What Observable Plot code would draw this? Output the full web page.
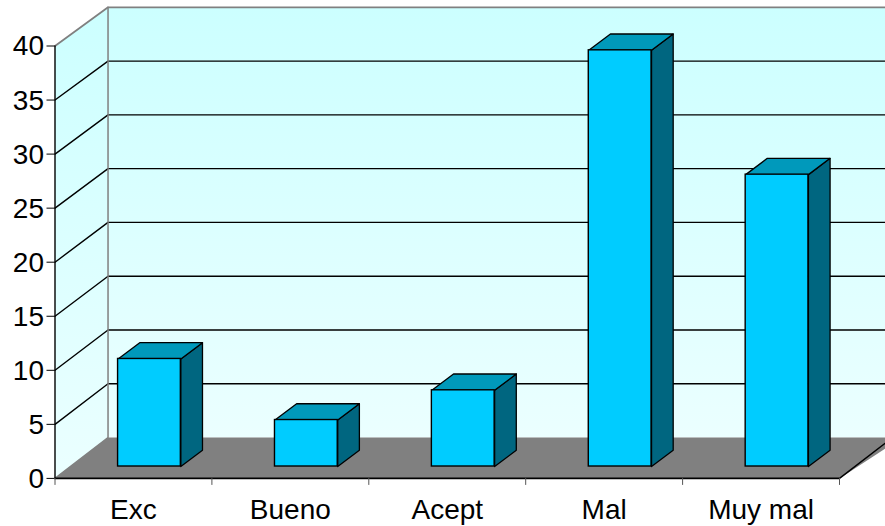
<!DOCTYPE html>
<html>
<head>
<meta charset="utf-8">
<script src="https://cdn.jsdelivr.net/npm/d3@7"></script>
<script src="https://cdn.jsdelivr.net/npm/@observablehq/plot@0.6"></script>
<style>
html,body{margin:0;padding:0;background:#fff;overflow:hidden}
svg{display:block}
</style>
</head>
<body>
<div id="chart"></div>
<script>
const categories = ["Exc", "Bueno", "Acept", "Mal", "Muy mal"];
const values = [9.95, 4.3, 7.05, 38.5, 27];
const yTicks = [0, 5, 10, 15, 20, 25, 30, 35, 40];
const gridLevels = [5, 10, 15, 20, 25, 30, 35];

// 3D projection, in data units
const wallDx = 0.338, wallDyBase = 3.78, wallDyScale = 0.995;
const barDx = 0.138, barDy = 1.508, barBase = 1.1;
const barLeft = 0.402, barWidth = 0.4;
const xMax = categories.length, yMax = 40;
const over = 0.4; // walls and floor run past the window's right edge

const backY = v => wallDyBase + v * wallDyScale;
const poly = (id, pts) => [...pts, pts[0]].map(([x, y]) => ({id, x, y}));

const backWall = poly("b", [[wallDx, backY(0)], [wallDx, backY(yMax)], [xMax + over, backY(yMax)], [xMax + over, backY(0)]]);
const leftWall = poly("l", [[0, 0], [0, yMax], [wallDx, backY(yMax)], [wallDx, backY(0)]]);
const floor = poly("f", [[0, 0], [wallDx, backY(0)], [xMax + over, backY(0)], [xMax, 0]]);

const gridPts = gridLevels.flatMap(v => [
  {id: v, x: 0, y: v}, {id: v, x: wallDx, y: backY(v)}, {id: v, x: xMax + over, y: backY(v)}
]);

const bars = values.map((v, i) => ({
  i, x1: i + barLeft, x2: i + barLeft + barWidth, y1: barBase, y2: barBase + v
}));
const tops = bars.flatMap(b => poly(b.i, [
  [b.x1, b.y2], [b.x1 + barDx, b.y2 + barDy], [b.x2 + barDx, b.y2 + barDy], [b.x2, b.y2]
]));
const sides = bars.flatMap(b => poly(b.i, [
  [b.x2, b.y1], [b.x2, b.y2], [b.x2 + barDx, b.y2 + barDy], [b.x2 + barDx, b.y1 + barDy]
]));

const lineXY = {x: "x", y: "y", z: "id"};
const defs = () => {
  const s = d3.create("svg:defs");
  const g = s.append("linearGradient").attr("id", "wallGrad").attr("x1", 0).attr("x2", 0).attr("y1", 0).attr("y2", 1);
  g.append("stop").attr("offset", "0%").attr("stop-color", "#ccffff");
  g.append("stop").attr("offset", "100%").attr("stop-color", "#ebffff");
  return s.node();
};

const chart = Plot.plot({
  width: 885,
  height: 526,
  marginLeft: 54.5,
  marginRight: 46,
  marginTop: 45.5,
  marginBottom: 48.1,
  style: {fontFamily: "'Liberation Sans', Arial, sans-serif", background: "#fff", color: "#000"},
  x: {domain: [0, xMax]},
  y: {domain: [0, yMax]},
  marks: [
    defs,
    Plot.line(backWall, {...lineXY, fill: "url(#wallGrad)", stroke: "none"}),
    Plot.line(leftWall, {...lineXY, fill: "url(#wallGrad)", stroke: "none"}),
    Plot.line(gridPts, {...lineXY, stroke: "#000", strokeWidth: 1.4}),
    Plot.line(floor, {...lineXY, fill: "#808080", stroke: "none"}),
    // grey wall edges
    Plot.line([{x: 0, y: yMax}, {x: wallDx, y: backY(yMax)}, {x: xMax + over, y: backY(yMax)}], {x: "x", y: "y", stroke: "#808080", strokeWidth: 1.8}),
    Plot.line([{x: wallDx, y: backY(yMax)}, {x: wallDx, y: backY(0)}, {x: 0, y: 0}], {x: "x", y: "y", stroke: "#808080", strokeWidth: 1.5}),
    // floor right edge
    Plot.line([{x: xMax, y: 0}, {x: xMax + wallDx, y: backY(0)}], {x: "x", y: "y", stroke: "#000", strokeWidth: 1.4}),
    // axes
    Plot.ruleX([0], {y1: 0, y2: yMax, stroke: "#000", strokeWidth: 1.4}),
    Plot.ruleY([0], {x1: 0, x2: xMax, stroke: "#000", strokeWidth: 1.6}),
    Plot.axisY({ticks: yTicks, tickSize: 8, tickFormat: () => "", stroke: "#000", strokeOpacity: 1, label: null}),
    Plot.axisY({ticks: yTicks, tickSize: 0, tickPadding: 11, dy: 0.5, fontSize: 28, label: null, fill: "#000"}),
    Plot.axisX({ticks: d3.range(0, xMax + 1), tickSize: 7, tickFormat: () => "", stroke: "#555", strokeOpacity: 1, label: null}),
    Plot.axisX({ticks: categories.map((_, i) => i + 0.5), tickSize: 0, tickPadding: 21, fontSize: 28,
      tickFormat: d => categories[Math.floor(d)], label: null, fill: "#000"}),
    // bars
    Plot.line(sides, {...lineXY, fill: "#006680", stroke: "#000", strokeWidth: 1.3, strokeLinejoin: "round"}),
    Plot.line(tops, {...lineXY, fill: "#0099bb", stroke: "#000", strokeWidth: 1.3, strokeLinejoin: "round"}),
    Plot.rect(bars, {x1: "x1", x2: "x2", y1: "y1", y2: "y2", fill: "#00ccff", stroke: "#000", strokeWidth: 1.4})
  ]
});
document.getElementById("chart").append(chart);
</script>
</body>
</html>
